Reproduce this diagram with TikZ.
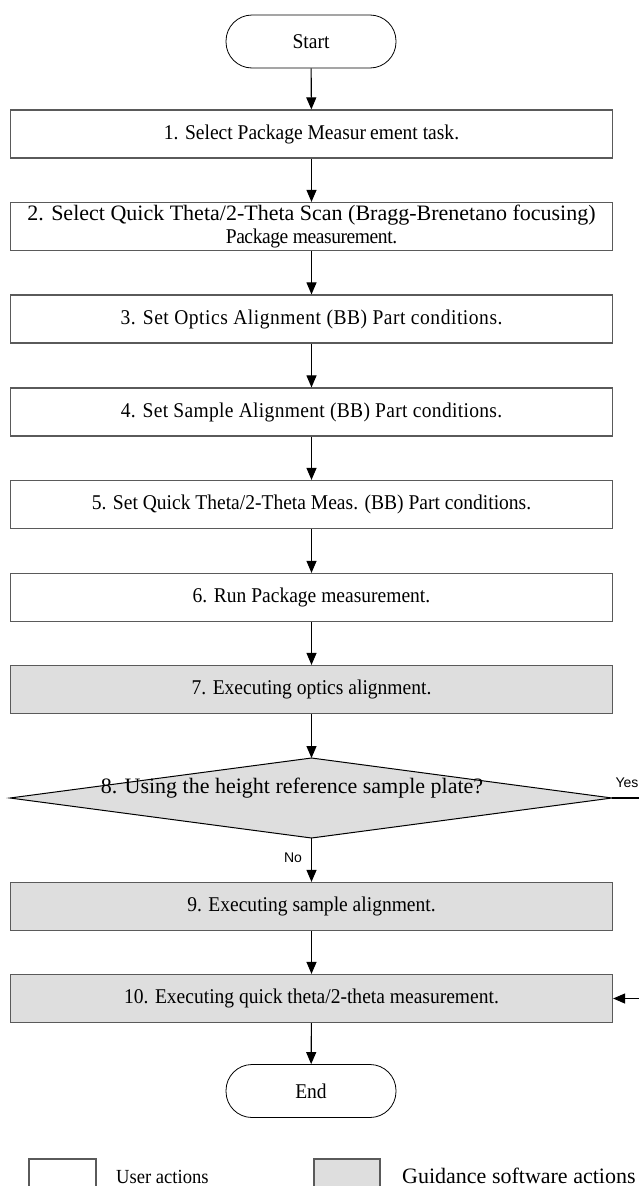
\documentclass[tikz,border=0pt]{standalone}
\usepackage{fontspec}
\setmainfont{Liberation Serif}[FakeStretch=0.93]
\newfontfamily\widefont{Liberation Serif}
\newfontfamily\lblfont{Liberation Sans}
\usetikzlibrary{arrows.meta}
\definecolor{guidegray}{HTML}{DEDEDE}
\definecolor{boxedge}{HTML}{5A5A5A}
\newcommand{\trk}[2]{{\addfontfeatures{LetterSpace=#1}#2}}
\newcommand{\wtxt}[1]{{\widefont\fontsize{22}{25}\selectfont #1}}
\begin{document}
\begin{tikzpicture}[x=1pt,y=-1pt,
  txt/.style={font=\fontsize{21}{25}\selectfont},
  box/.style={txt,draw=boxedge,line width=1.2pt,minimum width=602pt,minimum height=48pt,inner sep=0pt,align=center},
  ubox/.style={box,fill=white},
  gbox/.style={box,fill=guidegray},
  term/.style={txt,draw=black,line width=0.8pt,minimum width=170pt,minimum height=53pt,rounded corners=26pt,inner sep=0pt},
  arr/.style={line width=1.1pt,-{Triangle[length=12pt,width=10pt]}},
  lbl/.style={font=\lblfont\fontsize{14}{16}\selectfont,inner sep=0pt}
]
\useasboundingbox (0,0) rectangle (639,1186);
\clip (0,0) rectangle (639,1186);

\node[term] (start) at (311,41.5) {Start};
\node[ubox] (b1) at (311.5,134) {1. Select Package Measur\hspace{4pt}ement task.};
\node[ubox] (b2) at (311.5,226.5) {\wtxt{2. Select Quick Theta/2-Theta Scan (Bragg-Brenetano focusing)}\\[-2pt]\trk{-2}{Package measurement.}};
\node[ubox] (b3) at (311.5,319) {\trk{2.5}{3. Set Optics Alignment (BB) Part conditions.}};
\node[ubox] (b4) at (311.5,412) {\trk{1.5}{4. Set Sample Alignment (BB) Part conditions.}};
\node[ubox] (b5) at (311.5,504.5) {5. Set Quick Theta/2-Theta Meas. (BB) Part conditions.};
\node[ubox] (b6) at (311.5,597.5) {6. Run Package measurement.};
\node[gbox] (b7) at (311.5,689.5) {7. Executing optics alignment.};

% decision diamond
\coordinate (dl) at (10,798);
\coordinate (dt) at (311.5,758);
\coordinate (dr) at (612,798);
\coordinate (db) at (311.5,838);
\draw[fill=guidegray,draw=black,line width=1pt] (dl) -- (dt) -- (dr) -- (db) -- cycle;
\node[inner sep=0pt] (d8) at (292,788) {\wtxt{8. Using the height reference sample plate?}};

\node[gbox] (b9) at (311.5,906.5) {9. Executing sample alignment.};
\node[gbox] (b10) at (311.5,998.5) {10. Executing quick theta/2-theta measurement.};
\node[term] (end) at (311,1091) {End};

\coordinate (yesend) at (640,798);
\coordinate (loopin) at (640,998.5);

\draw[arr] (start) -- (b1);
\draw[arr] (b1) -- (b2);
\draw[arr] (b2) -- (b3);
\draw[arr] (b3) -- (b4);
\draw[arr] (b4) -- (b5);
\draw[arr] (b5) -- (b6);
\draw[arr] (b6) -- (b7);
\draw[arr] (b7) -- (dt);
\draw[arr] (db) -- (b9);
\draw[arr] (b9) -- (b10);
\draw[arr] (b10) -- (end);
\draw[line width=1.1pt] (dr) -- (yesend);
\draw[arr] (loopin) -- (b10.east);

\node[lbl] (yes) at (627,783) {Yes};
\node[lbl] (no) at (293,858) {No};

% legend
\draw[draw=boxedge,line width=1.2pt,fill=white] (29,1159) rectangle (96,1200);
\node[anchor=base west,inner sep=0pt,font=\fontsize{20}{22}\selectfont] (lu) at (116,1183) {User actions};
\draw[draw=boxedge,line width=1.2pt,fill=guidegray] (314,1159) rectangle (380,1200);
\node[anchor=base west,inner sep=0pt] (lg) at (402,1183) {\wtxt{Guidance software actions}};
\end{tikzpicture}
\end{document}
